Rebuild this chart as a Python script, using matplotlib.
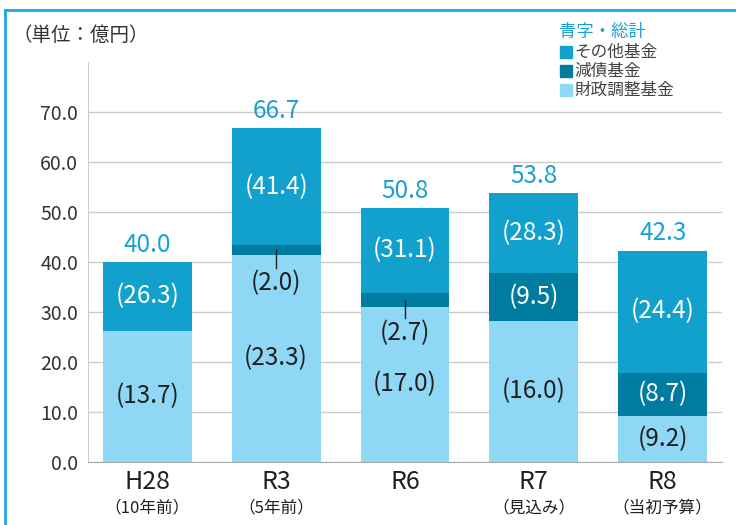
import matplotlib
matplotlib.use('Agg')
import matplotlib.pyplot as plt
from matplotlib.lines import Line2D
from matplotlib.patches import Rectangle
import numpy as np

plt.rcParams['font.family'] = ['Noto Sans CJK JP', 'DejaVu Sans']

# ── data ──────────────────────────────────────────────
years = ['H28', 'R3', 'R6', 'R7', 'R8']
year_notes = ['（10年前）', '（5年前）', '', '（見込み）', '（当初予算）']
fiscal_adj = [26.3, 41.4, 31.1, 28.3, 9.2]    # light segment as drawn
debt_fund = [0.0, 2.0, 2.7, 9.5, 8.7]         # dark segment
other_fund = [13.7, 23.3, 17.0, 16.0, 24.4]   # top segment as drawn
totals = [40.0, 66.7, 50.8, 53.8, 42.3]
top_labels = ['(26.3)', '(41.4)', '(31.1)', '(28.3)', '(24.4)']
debt_labels = ['', '(2.0)', '(2.7)', '(9.5)', '(8.7)']
bottom_labels = ['(13.7)', '(23.3)', '(17.0)', '(16.0)', '(9.2)']
small_debt = [False, True, True, False, False]

c_light = '#8ed8f6'
c_mid = '#11a1cc'
c_dark = '#007ca1'
c_total = '#1ba0d2'
c_text = '#231f20'

fig = plt.figure(figsize=(7.36, 5.25), dpi=100, facecolor='white')
ax = fig.add_axes([88 / 736, 63 / 525, (722 - 88) / 736, 400 / 525])

x = np.arange(len(years))
w = 0.69
fa = np.array(fiscal_adj)
db = np.array(debt_fund)
ot = np.array(other_fund)

ax.bar(x, fa, w, color=c_light, zorder=2)
ax.bar(x, db, w, bottom=fa, color=c_dark, zorder=2)
ax.bar(x, ot, w, bottom=fa + db, color=c_mid, zorder=2)

fs = 17.5
for i in range(len(years)):
    ax.text(x[i], fa[i] / 2, bottom_labels[i], ha='center', va='center',
            fontsize=fs, color=c_text, zorder=3)
    ax.text(x[i], fa[i] + db[i] + ot[i] / 2, top_labels[i], ha='center',
            va='center', fontsize=fs, color='white', zorder=3)
    if debt_labels[i]:
        mid = fa[i] + db[i] / 2
        if small_debt[i]:
            ax.plot([x[i], x[i]], [mid, mid - 3.6], color=c_text, lw=1, zorder=3)
            ax.text(x[i], mid - 6.6, debt_labels[i], ha='center', va='center',
                    fontsize=fs, color=c_text, zorder=3)
        else:
            ax.text(x[i], mid, debt_labels[i], ha='center', va='center',
                    fontsize=fs, color='white', zorder=3)
    ax.text(x[i], totals[i] + 0.8, f'{totals[i]:.1f}', ha='center',
            va='bottom', fontsize=fs, color=c_total, zorder=3)

ax.set_xlim(-0.46, 4.46)
ax.set_ylim(0, 80)
ax.set_yticks(np.arange(0, 71, 10))
ax.set_yticklabels([f'{v:.1f}' for v in np.arange(0, 71, 10)],
                   fontsize=14, color='#333333')
ax.tick_params(axis='y', length=0, pad=7)
ax.set_xticks(x)
ax.set_xticklabels([])
ax.tick_params(axis='x', length=0)
ax.grid(axis='y', color='#cccccc', lw=1, zorder=0)
for s in ['top', 'right']:
    ax.spines[s].set_visible(False)
ax.spines['left'].set_color('#cccccc')
ax.spines['bottom'].set_color('#aaaaaa')

# category labels
for i in range(len(years)):
    ax.text(x[i], -4.0, years[i], ha='center', va='center', fontsize=18,
            color=c_text, clip_on=False)
    if year_notes[i]:
        ax.text(x[i], -9.2, year_notes[i], ha='center', va='center',
                fontsize=12, color=c_text, clip_on=False)

# unit label
fig.text(12 / 736, 1 - 35 / 525, '（単位：億円）', ha='left', va='center',
         fontsize=14, color='#333333')

# legend
fig.text(559 / 736, 1 - 32 / 525, '青字・総計', ha='left', va='center',
         fontsize=12.5, color=c_total)
leg_items = ['その他基金', '減債基金', '財政調整基金']
leg_colors = [c_mid, c_dark, c_light]
for k, (lab, col) in enumerate(zip(leg_items, leg_colors)):
    yc = 52 + 19 * k
    fig.add_artist(Rectangle((560 / 736, 1 - (yc + 6) / 525), 12 / 736, 12 / 525,
                             transform=fig.transFigure, color=col))
    fig.text(574 / 736, 1 - yc / 525, lab, ha='left', va='center',
             fontsize=12, color='#444444')

# frame
fig.add_artist(Line2D([5 / 736, 1], [1 - 10 / 525, 1 - 10 / 525],
                      transform=fig.transFigure, color='#1ea8e0', lw=2))
fig.add_artist(Line2D([5 / 736, 5 / 736], [0, 1 - 10 / 525],
                      transform=fig.transFigure, color='#1ea8e0', lw=2))

fig.savefig('out.png', dpi=100, facecolor='white')
